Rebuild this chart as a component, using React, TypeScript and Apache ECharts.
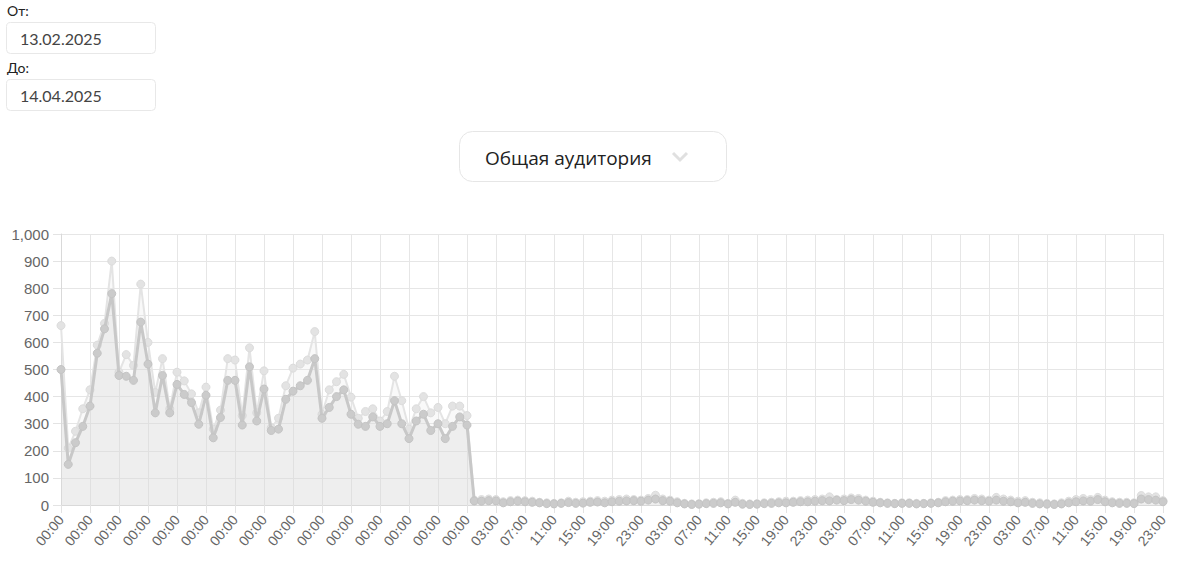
import React, { useEffect, useRef } from "react";
import * as echarts from "echarts";

// Daily values (57 days), then hourly values (4 days x 24 h)
const dailyMain = [
  500, 150, 230, 290, 365, 560, 650, 780, 478, 475, 460, 675, 520, 340, 478, 340, 445, 408, 378, 298,
  405, 248, 323, 460, 460, 295, 510, 310, 428, 275, 280, 390, 420, 440, 460, 540, 320, 360, 400, 425,
  335, 298, 290, 325, 290, 300, 385, 300, 245, 310, 335, 275, 300, 245, 290, 325, 295,
];
const dailyPeak = [
  662, 210, 272, 355, 425, 590, 670, 900, 490, 555, 515, 815, 600, 415, 540, 355, 490, 458, 410, 340,
  435, 280, 350, 540, 535, 330, 580, 340, 495, 285, 320, 440, 505, 520, 535, 640, 335, 425, 455, 482,
  398, 320, 345, 355, 310, 345, 475, 385, 280, 355, 400, 340, 360, 300, 365, 365, 330,
];
const hourlyMain = [
  15, 14, 16, 15, 8, 12, 14, 12, 10, 8, 5, 4, 6, 9, 6, 7, 10, 11, 8, 12, 14, 15, 16, 14,
  18, 22, 16, 14, 8, 4, 2, 3, 5, 6, 8, 4, 10, 3, 2, 3, 5, 6, 8, 8, 10, 12, 12, 14,
  16, 15, 18, 16, 20, 18, 14, 10, 8, 6, 5, 6, 6, 4, 5, 6, 8, 12, 14, 15, 16, 18, 16, 14,
  18, 14, 12, 8, 10, 6, 4, 3, 2, 4, 8, 12, 15, 14, 20, 12, 8, 6, 6, 5, 22, 20, 18, 12,
];
const hourlyPeak = [
  18, 20, 22, 20, 12, 16, 18, 16, 14, 10, 8, 6, 8, 14, 10, 12, 14, 16, 14, 18, 20, 22, 20, 18,
  24, 36, 22, 18, 12, 6, 4, 5, 8, 10, 12, 6, 18, 6, 4, 5, 8, 10, 12, 14, 14, 16, 18, 20,
  22, 30, 20, 22, 26, 24, 18, 14, 10, 8, 6, 8, 8, 6, 6, 8, 10, 16, 18, 20, 20, 24, 22, 18,
  28, 22, 18, 14, 16, 10, 8, 6, 4, 8, 14, 20, 24, 20, 28, 18, 12, 10, 10, 8, 35, 30, 30, 16,
];
const hourLabels = [
  "00:00", "01:00", "02:00", "03:00", "04:00", "05:00", "06:00", "07:00", "08:00", "09:00", "10:00", "11:00",
  "12:00", "13:00", "14:00", "15:00", "16:00", "17:00", "18:00", "19:00", "20:00", "21:00", "22:00", "23:00",
];
const categories: string[] = [
  ...dailyMain.map(() => "00:00"),
  ...hourLabels, ...hourLabels, ...hourLabels, ...hourLabels,
];
const mainSeries = [...dailyMain, ...hourlyMain];
const peakSeries = [...dailyPeak, ...hourlyPeak];

const fromDate = "13.02.2025";
const toDate = "14.04.2025";
const audienceLabel = "Общая аудитория";

export default function App() {
  const ref = useRef<HTMLDivElement>(null);
  useEffect(() => {
    if (!ref.current) return;
    const chart = echarts.init(ref.current, undefined, { renderer: "svg" });
    const uiFont = "Lato, 'Open Sans', 'Noto Sans', sans-serif";
    const ddFont = "'Open Sans', 'Noto Sans', sans-serif";
    const axisFont = "'Liberation Sans', Arial, sans-serif";
    chart.setOption({
      animation: false,
      grid: { left: 61, right: 16, top: 234, bottom: 61, containLabel: false },
      xAxis: {
        type: "category",
        data: categories,
        boundaryGap: false,
        axisLine: { show: true, lineStyle: { color: "#d9d9d9" } },
        axisTick: { show: true, interval: 3, length: 8, lineStyle: { color: "#e3e3e3" } },
        splitLine: { show: true, interval: 3, lineStyle: { color: "#e6e6e6" } },
        axisLabel: {
          interval: 3,
          rotate: 50,
          color: "#666",
          fontSize: 14,
          fontFamily: axisFont,
          margin: 12,
        },
      },
      yAxis: {
        type: "value",
        min: 0,
        max: 1000,
        interval: 100,
        axisLine: { show: true, lineStyle: { color: "#d9d9d9" } },
        axisTick: { show: true, length: 8, lineStyle: { color: "#e3e3e3" } },
        splitLine: { show: true, lineStyle: { color: "#e6e6e6" } },
        axisLabel: {
          color: "#666",
          fontSize: 15,
          fontFamily: axisFont,
          margin: 12,
          formatter: (v: number) => v.toLocaleString("en-US"),
        },
      },
      series: [
        {
          type: "line",
          data: peakSeries,
          z: 1,
          symbol: "circle",
          symbolSize: 8,
          showAllSymbol: true,
          lineStyle: { color: "#e4e4e4", width: 2 },
          itemStyle: { color: "#e3e3e3", borderColor: "#dcdcdc", borderWidth: 1 },
          areaStyle: { color: "rgba(225,225,225,0.3)", origin: "start" },
        },
        {
          type: "line",
          data: mainSeries,
          z: 2,
          symbol: "circle",
          symbolSize: 8,
          showAllSymbol: true,
          lineStyle: { color: "#c8c8c8", width: 3 },
          itemStyle: { color: "#cbcbcb", borderColor: "#c4c4c4", borderWidth: 1 },
          areaStyle: { color: "rgba(215,215,215,0.45)", origin: "start" },
        },
      ],
      graphic: [
        { type: "text", left: 7, top: 3, style: { text: "От:", fill: "#222", font: `14px ${uiFont}` } },
        { type: "rect", shape: { x: 6.5, y: 22.5, width: 149, height: 31, r: 4 }, style: { fill: "#fff", stroke: "#e8e8e8", lineWidth: 1 } },
        { type: "text", x: 20, y: 38, style: { text: fromDate, fill: "#444", font: `16px ${uiFont}`, verticalAlign: "middle" } },
        { type: "text", left: 7, top: 60, style: { text: "До:", fill: "#222", font: `14px ${uiFont}` } },
        { type: "rect", shape: { x: 6.5, y: 79.5, width: 149, height: 31, r: 4 }, style: { fill: "#fff", stroke: "#e8e8e8", lineWidth: 1 } },
        { type: "text", x: 20, y: 95, style: { text: toDate, fill: "#444", font: `16px ${uiFont}`, verticalAlign: "middle" } },
        { type: "rect", shape: { x: 459.5, y: 131.5, width: 267, height: 50, r: 13 }, style: { fill: "#fff", stroke: "#e6e6e6", lineWidth: 1 } },
        { type: "text", x: 485, y: 158, style: { text: audienceLabel, fill: "#222", font: `19px ${ddFont}`, verticalAlign: "middle" } },
        { type: "polyline", shape: { points: [[673, 153], [680, 160], [687, 153]] }, style: { stroke: "#e0e0e0", lineWidth: 3, fill: "none" } },
      ],
    });
    return () => chart.dispose();
  }, []);
  return (
    <div style={{ position: "fixed", left: 0, top: 0, width: 1179, height: 566, background: "#fff" }}>
      <div ref={ref} style={{ width: 1179, height: 566 }} />
    </div>
  );
}
